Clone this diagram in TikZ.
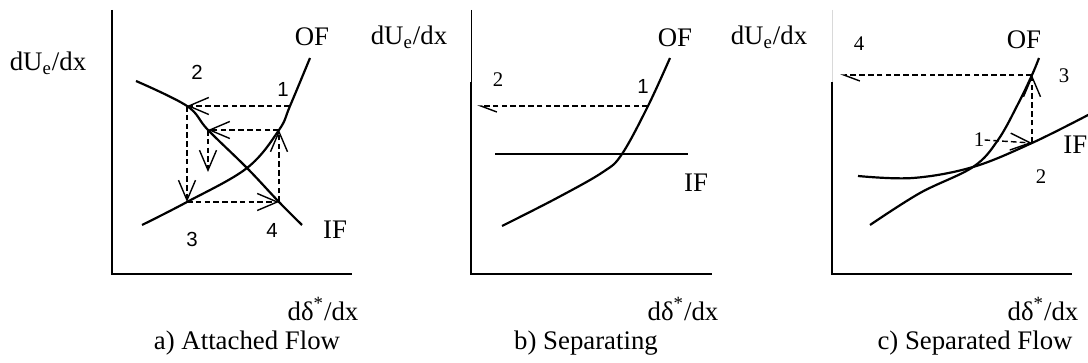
\documentclass[tikz,border=0pt]{standalone}
\usepackage{fontspec}
\setmainfont{Liberation Serif}
\newfontfamily\numsansfont{Liberation Sans}
\usetikzlibrary{arrows.meta}

\begin{document}
\begin{tikzpicture}[x=0.5pt, y=0.5pt,
    axis/.style={line width=1pt},
    axis top/.style={line width=0.5pt},
    curve/.style={line width=1.1pt, line join=round},
    guide/.style={line width=0.7pt, dash pattern=on 2.8pt off 1.6pt},
    >={Straight Barb[length=10pt, width=8.5pt]},
    half barb/.style={-{Straight Barb[left, length=8pt, width=6pt]}},
    txt/.style={font=\fontsize{13.4}{16}\selectfont, inner sep=0pt},
    num sans/.style={font=\numsansfont\fontsize{10.2}{12}\selectfont, inner sep=0pt},
    num serif/.style={font=\fontsize{10.4}{12}\selectfont, inner sep=0pt}]

  \useasboundingbox (0,0) rectangle (1088,363);

  % ===== a) Attached flow =====
  \begin{scope}[shift={(112,89)}]
    % axes
    \draw[axis] (0,264) -- (0,0) -- (240,0);
    \node[txt] (a-ylab) at (-64,211) {dU\textsubscript{e}/dx};
    \node[txt] (a-xlab) at (211,-35) {dδ\textsuperscript{*}/dx};
    \node[txt] (a-cap) at (135,-69) {a) Attached Flow};

    % iteration points on the curves
    \coordinate (a-1) at (178,168);
    \coordinate (a-2) at (75,168);
    \coordinate (a-3) at (75,72);
    \coordinate (a-4) at (167,72);
    \coordinate (a-5) at (167,144);
    \coordinate (a-6) at (96,144);
    \coordinate (a-7) at (96,102);
    \coordinate (a-cross) at (135,106);

    % inviscid flow (falling) and outer flow (rising)
    \draw[curve] plot[smooth, tension=0.6] coordinates
      {(24,193) (a-2) (a-6) (a-cross) (a-4) (190,49)};
    \draw[curve] plot[smooth, tension=0.6] coordinates
      {(30,49) (a-3) (a-cross) (a-5) (a-1) (198,216)};
    \node[txt] (a-of) at (200,237) {OF};
    \node[txt] (a-if) at (223,44) {IF};

    % iteration path
    \draw[guide, ->] (a-1) -- (a-2);
    \draw[guide, ->] (a-2) -- (a-3);
    \draw[guide, ->] (a-3) -- (a-4);
    \draw[guide, ->] (a-4) -- (a-5);
    \draw[guide, ->] (a-5) -- (a-6);
    \draw[guide, ->] (a-6) -- (a-7);
    \node[num sans] (a-n1) at (171,185) {1};
    \node[num sans] (a-n2) at (85,202) {2};
    \node[num sans] (a-n3) at (80,35) {3};
    \node[num sans] (a-n4) at (160,44) {4};
  \end{scope}

  % ===== b) Separating =====
  \begin{scope}[shift={(471,89)}]
    \draw[axis top] (0,264) -- (0,192);
    \draw[axis] (0,192) -- (0,0) -- (241,0);
    \node[txt] (b-ylab) at (-62,237) {dU\textsubscript{e}/dx};
    \node[txt] (b-xlab) at (212,-35) {dδ\textsuperscript{*}/dx};
    \node[txt] (b-cap) at (115,-69) {b) Separating};

    \coordinate (b-1) at (177,168);
    \coordinate (b-2) at (6,168);
    \coordinate (b-if0) at (24,120);
    \coordinate (b-if1) at (217,120);

    \draw[curve] (b-if0) -- (b-if1);
    \draw[curve] plot[smooth, tension=0.6] coordinates
      {(31,48) (86,76) (132,102) (151,120) (b-1) (199,216)};
    \node[txt] (b-of) at (204,236) {OF};
    \node[txt] (b-if) at (225,91) {IF};

    \draw[guide, half barb] (b-1) -- (b-2);
    \node[num sans] (b-n1) at (172,188) {1};
    \node[num serif] (b-n2) at (27,194) {2};
  \end{scope}

  % ===== c) Separated flow =====
  \begin{scope}[shift={(832,89)}]
    \draw[axis top, gray!30] (0,264) -- (0,192);
    \draw[axis] (0,192) -- (0,0) -- (240,0);
    \node[txt] (c-ylab) at (-63,237) {dU\textsubscript{e}/dx};
    \node[txt] (c-xlab) at (211,-35) {dδ\textsuperscript{*}/dx};
    \node[txt] (c-cap) at (143,-69) {c) Separated Flow};

    \coordinate (c-2) at (200,131);
    \coordinate (c-3) at (200,199);
    \coordinate (c-4) at (8,199);
    \coordinate (c-cross) at (141,107);

    \draw[curve] plot[smooth, tension=0.6] coordinates
      {(26,98) (81,96) (c-cross) (c-2) (258,160)};
    \draw[curve] plot[smooth, tension=0.6] coordinates
      {(38,49) (88,81) (c-cross) (166,134) (186,170) (c-3) (207,216)};
    \node[txt] (c-of) at (192,234) {OF};
    \node[txt, anchor=west] (c-if) at (231,129) {IF};

    \node[num serif] (c-n1) at (147,134) {1};
    \node[num serif] (c-n2) at (209,97) {2};
    \node[num serif] (c-n3) at (232,198) {3};
    \node[num serif] (c-n4) at (27,230) {4};
    \draw[guide, ->] (c-n1.east) -- (c-2);
    \draw[guide, ->] (c-2) -- (c-3);
    \draw[guide, half barb] (c-3) -- (c-4);
  \end{scope}

\end{tikzpicture}
\end{document}
